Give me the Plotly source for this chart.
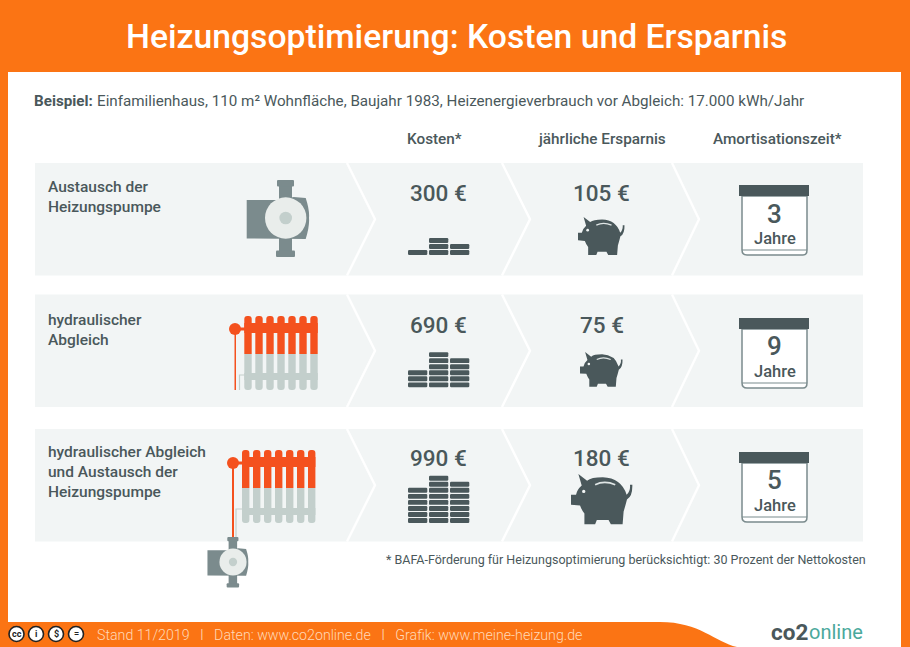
import plotly.graph_objects as go

# values read from the infographic
title = "Heizungsoptimierung: Kosten und Ersparnis"
example_lead = "Beispiel:"
example_text = ("Einfamilienhaus, 110 m² Wohnfläche, Baujahr 1983, "
                "Heizenergieverbrauch vor Abgleich: 17.000 kWh/Jahr")
column_titles = ["Kosten*", "jährliche Ersparnis", "Amortisationszeit*"]
measures = ["Austausch der<br>Heizungspumpe",
            "hydraulischer<br>Abgleich",
            "hydraulischer Abgleich<br>und Austausch der<br>Heizungspumpe"]
costs = [300, 690, 990]
savings = [105, 75, 180]
payback_years = [3, 9, 5]
coin_stacks = [[1, 3, 2], [3, 6, 5], [6, 8, 7]]
footnote = "* BAFA-Förderung für Heizungsoptimierung berücksichtigt: 30 Prozent der Nettokosten"
footer = "Stand 11/2019   I   Daten: www.co2online.de   I   Grafik: www.meine-heizung.de"

ORANGE = "#fb7414"
DARK = "#4a585b"
PANEL = "#f2f5f5"
RED = "#f4511e"
GREY = "#c3cfcc"
PUMP = "#7b8b8d"

shapes = []
annotations = []


def rect(x0, y0, x1, y1, color, line=None):
    shapes.append(dict(type="rect", x0=x0, y0=y0, x1=x1, y1=y1, fillcolor=color,
                       line=dict(width=line[1], color=line[0]) if line else dict(width=0)))


def circle(cx, cy, r, color, line=None):
    shapes.append(dict(type="circle", x0=cx - r, y0=cy - r, x1=cx + r, y1=cy + r, fillcolor=color,
                       line=dict(width=line[1], color=line[0]) if line else dict(width=0)))


def path(d, color=None, line=None):
    s = dict(type="path", path=d, line=dict(width=line[1], color=line[0]) if line else dict(width=0))
    if color:
        s["fillcolor"] = color
    shapes.append(s)


def round_rect(x0, y0, x1, y1, rt, rb, color):
    path(f"M{x0},{y0 + rt} Q{x0},{y0} {x0 + rt},{y0} L{x1 - rt},{y0} Q{x1},{y0} {x1},{y0 + rt} "
         f"L{x1},{y1 - rb} Q{x1},{y1} {x1 - rb},{y1} L{x0 + rb},{y1} Q{x0},{y1} {x0},{y1 - rb} Z", color)


def text(x, y, s, size, color=DARK, anchor="left", weight=400, family="Roboto"):
    annotations.append(dict(x=x, y=y, text=s, showarrow=False, xanchor=anchor, yanchor="middle",
                            align=anchor if anchor != "center" else "center",
                            font=dict(size=size, color=color, family=family, weight=weight)))


def pump(cx, cy, k):
    def X(v): return cx + v * k
    def Y(v): return cy + v * k
    rect(X(-6.7), Y(-38), X(6.3), Y(38), PUMP)
    round_rect(X(-8.7), Y(-38), X(8.3), Y(-31.5), 1, 1, PUMP)
    round_rect(X(-9.7), Y(32.5), X(9.3), Y(39), 1, 1, PUMP)
    path(f"M{X(-39)},{Y(-18)} L{X(-7)},{Y(-18)} L{X(8)},{Y(-21)} L{X(20)},{Y(-20)} "
         f"Q{X(24)},{Y(-8)} {X(23.3)},{Y(0)} Q{X(24)},{Y(8)} {X(20)},{Y(21)} L{X(-39)},{Y(20.5)} Z", PUMP)
    circle(cx, cy, 20.7 * k, "#e9edeb")
    circle(cx, cy, 6.3 * k, GREY)


def radiator(x0, y0, split, bar1, bar2, bottom):
    pitch = 11.0
    w = 7.4
    for i in range(7):
        x = x0 + i * pitch
        round_rect(x, y0, x + w, split, 3, 0, RED)
        round_rect(x, split, x + w, bottom, 0, 3, GREY)
    rect(x0, bar1[0], x0 + 6 * pitch + w, bar1[1], RED)
    rect(x0, bar2[0], x0 + 6 * pitch + w, bar2[1], GREY)


def piggy(x0, y0, w):
    k = w / 185.0
    def P(px, py): return f"{x0 + px * k},{y0 + py * k}"
    path(f"M{P(0, 62)} L{P(0, 92)} L{P(27, 94)} Q{P(32, 108)} {P(40, 118)} L{P(40, 150)} L{P(72, 150)} "
         f"L{P(77, 137)} L{P(112, 137)} L{P(119, 150)} L{P(154, 150)} L{P(157, 112)} Q{P(163, 92)} {P(167, 76)} "
         f"Q{P(184, 66)} {P(183, 32)} L{P(176, 32)} Q{P(178, 50)} {P(166, 62)} Q{P(150, 12)} {P(95, 10)} "
         f"Q{P(60, 10)} {P(48, 20)} L{P(22, 0)} L{P(32, 34)} Q{P(18, 46)} {P(15, 62)} Z", DARK)
    circle(x0 + 38 * k, y0 + 52 * k, 3.8 * k + 0.4, "#f2f5f5")
    path(f"M{P(72, 32)} Q{P(100, 18)} {P(132, 32)}", None, ("#dfe5e5", max(1.0, 5 * k)))


def calendar(top, bottom):
    path(f"M742,{top} L742,{bottom - 5} Q742,{bottom} 747,{bottom} L803,{bottom} "
         f"Q807,{bottom} 807,{bottom - 5} L807,{top} Z", "white", (PUMP, 1.5))
    path(f"M742,{bottom - 5} L807,{bottom - 5}", None, (PUMP, 1.2))
    rect(739, top - 11, 809, top, DARK)


# page background and white sheet
rect(0, 0, 910, 647, ORANGE)
path("M8,72 L901,72 L901,647 L737,647 C715,642 700,622 660,622 L8,622 Z", "white")

# the three rows
panel_tops = [163, 294.5, 429]
panel_h = 112.5
for top in panel_tops:
    rect(35, top, 863, top + panel_h, PANEL)
    mid = top + panel_h / 2
    for a, b in [(347, 375), (502, 530), (672, 699)]:
        path(f"M{a},{top} L{b},{mid} L{a},{top + panel_h}", None, ("white", 2.4))

pump(285.7, 218, 1.0)

# radiators with their pipes
path("M239.5,390 L239.5,375 L245,375", None, (GREY, 1.2))
radiator(244.3, 316, 354, (323, 333), (373, 380), 390)
circle(235, 329, 6, RED)
rect(235, 327.5, 245, 330.5, RED)
rect(234.5, 329, 236, 390, RED)

path("M236,537 L236,509 L243,509", None, (GREY, 1.2))
radiator(242, 450, 488, (457, 467), (508, 515), 523)
circle(233, 463, 6, RED)
rect(233, 461.5, 243, 464.5, RED)
rect(232, 463, 234, 537, RED)
pump(233, 562, 0.655)

# coins, one rounded slab per coin in each stack
coin_x = [408, 429, 450]
baselines = [255, 387.3, 523]
for stacks, base in zip(coin_stacks, baselines):
    for x, n in zip(coin_x, stacks):
        for c in range(n):
            y1 = base - c * 6.05
            round_rect(x, y1 - 4.9, x + 19.3, y1, 1.2, 1.2, DARK)

piggy(578, 217, 47)
piggy(580, 352, 43)
piggy(571, 474, 62)

calendar(196, 255)
calendar(329, 388)
calendar(463, 522)

# texts
text(456, 36.5, title, 33.7, "white", "center", 500)
text(32, 101, example_lead, 15.2, DARK, "left", 700)
text(95, 101, example_text, 15.2)
for x, s in zip([434.5, 602, 777.5], column_titles):
    text(x, 139, s, 15.3, DARK, "center", 500)

name_y = [197, 330, 472]
cost_y = [193, 325, 458]
year_y = [214, 346, 480]
unit_y = [238, 371, 505]
for i in range(3):
    text(46, name_y[i], measures[i], 15.5, DARK, "left", 500)
    text(438.5, cost_y[i], f"{costs[i]} €", 22.5, DARK, "center", 500)
    text(601.5, cost_y[i], f"{savings[i]} €", 22.5, DARK, "center", 500)
    text(774, year_y[i], str(payback_years[i]), 26, DARK, "center", 500)
    text(774.5, unit_y[i], "Jahre", 16.5, DARK, "center", 500)

text(868, 559, footnote, 12.5, DARK, "right")

# footer
for x, s in zip([16.5, 36, 56, 76], ["cc", "i", "$", "="]):
    circle(x, 634, 7.5, "white", ("#222222", 1.6))
    text(x, 634, s, 9, "#222222", "center", 700)
text(95, 635, footer, 14.2, "#ffd9b8", "left", 300)
text(769, 632, "co2", 22.5, DARK, "left", 700)
text(807, 632, "online", 20, "#4ba99c", "left", 400)

fig = go.Figure()
fig.update_layout(
    width=910, height=647,
    margin=dict(l=0, r=0, t=0, b=0),
    paper_bgcolor="white", plot_bgcolor="white",
    xaxis=dict(range=[0, 910], visible=False, fixedrange=True),
    yaxis=dict(range=[647, 0], visible=False, fixedrange=True),
    shapes=shapes, annotations=annotations,
    showlegend=False,
)
fig.write_html("out.html", config=dict(displayModeBar=False),
               post_script="document.body.style.margin='0';")
